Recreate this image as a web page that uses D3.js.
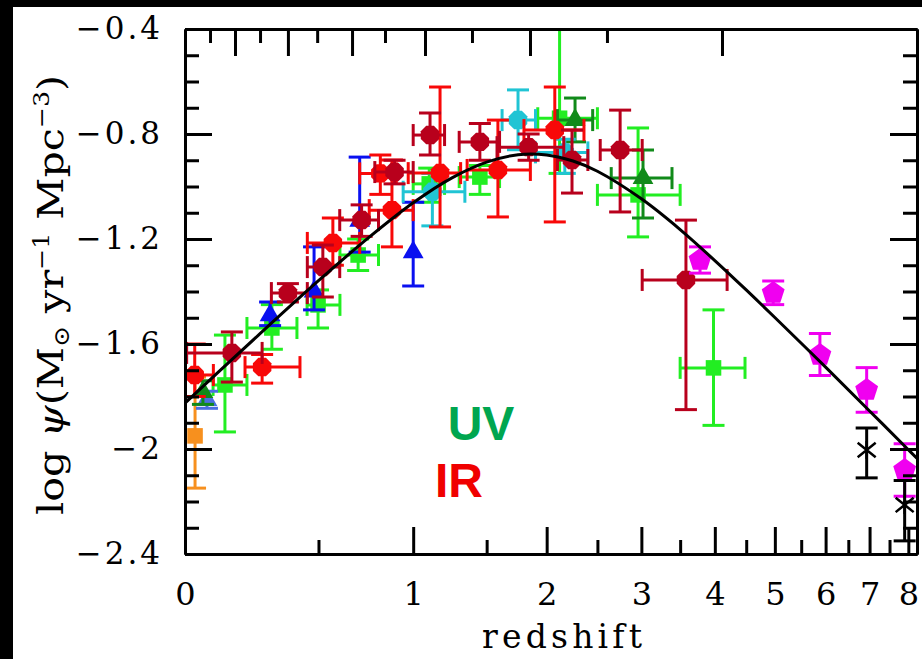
<!DOCTYPE html>
<html lang="en">
<head>
<meta charset="UTF-8">
<title>Cosmic star formation history</title>
<script src="https://d3js.org/d3.v7.min.js"></script>
<style>
  body { margin:0; background:#fff; }
  svg { display:block; }
</style>
</head>
<body>
<div id="chart"></div>
<script>
// ---- data ----
// rows: [z, log psi, zLo, zHi, psiHi(upper bar end), psiLo(lower bar end)]
var orangeSq=[[0.031,-1.95,null,null,-1.726,-2.149]]
var royalTri=[[0.069,-1.813,null,null,-1.78,-1.845]]
var dkgreenTri=[[0.056,-1.783,null,null,-1.74,-1.83],[2.27,-0.747,2.1,2.45,-0.663,-0.83],[3.02,-0.968,2.65,3.39,-0.861,-1.12]]
var limeSq=[[0.129,-1.756,0.089,0.207,-1.566,-1.935],[0.302,-1.539,0.207,0.405,-1.45,-1.62],[0.498,-1.451,0.449,0.601,-1.394,-1.539],
  [0.692,-1.261,0.601,0.8,-1.2,-1.32],[1.1,-0.99,1.0,1.2,-0.93,-1.06],[1.449,-0.964,1.3,1.6,-0.92,-1.03],
  [2.12,-0.74,1.92,2.5,-0.3,-0.95],[2.96,-1.032,2.5,3.5,-0.777,-1.192],[3.98,-1.691,3.5,4.48,-1.47,-1.91]]
var blueTri=[[0.295,-1.49,null,null,-1.44,-1.53],[0.48,-1.40,null,null,-1.23,-1.47],[0.70,-1.13,null,null,-0.888,-1.25],[1.0,-1.25,null,null,-1.06,-1.379]]
var cyanHex=[[1.12,-1.02,0.94,1.34,-0.95,-1.15],[1.75,-0.747,1.62,1.9,-0.632,-0.86],[2.17,-0.87,1.9,2.4,-0.82,-0.95]]
var redHex=[[0.03,-1.718,0.0,0.09,-1.60,-1.80],[0.264,-1.688,0.2,0.418,-1.64,-1.749],[0.567,-1.215,0.45,0.70,-1.12,-1.30],
  [0.81,-0.95,0.70,0.90,-0.88,-1.03],[0.875,-1.09,0.75,1.0,-0.899,-1.23],[1.17,-0.949,0.97,1.31,-0.621,-1.154],
  [1.587,-0.937,1.356,1.855,-0.747,-1.116],[2.075,-0.785,1.80,2.36,-0.621,-1.135]]
var darkredHex=[[0.153,-1.634,0.005,0.264,-1.554,-1.745],[0.367,-1.406,0.30,0.45,-1.37,-1.44],[0.52,-1.307,0.45,0.60,-1.223,-1.421],
  [0.71,-1.128,0.6,0.8,-1.07,-1.19],[0.89,-0.945,0.78,1.0,-0.90,-0.99],[1.105,-0.804,1.0,1.2,-0.72,-0.88],
  [1.449,-0.83,1.3,1.6,-0.76,-0.90],[1.84,-0.85,1.58,2.16,-0.80,-0.90],[2.24,-0.899,2.1,2.4,-0.785,-1.025],
  [2.75,-0.861,2.53,3.01,-0.709,-1.097],[3.58,-1.356,3.01,4.19,-1.128,-1.85]]
var magentaPent=[[3.78,-1.28,null,null,-1.23,-1.33],[4.97,-1.406,null,null,-1.36,-1.45],[5.88,-1.642,null,null,-1.56,-1.72],
  [6.93,-1.775,null,null,-1.69,-1.86],[7.9,-2.08,null,null,-1.98,-2.18]]
var blackStar=[[6.93,-2.004,null,null,-1.92,-2.11],[7.9,-2.213,null,null,-2.12,-2.35]]

// fit curve, sampled
var curveZ=[0,0.1,0.25,0.5,0.75,1,1.25,1.5,1.75,2,2.25,2.5,3,3.5,4,4.5,5,6,7,8,8.25]
var curvePsi=[-1.825,-1.714,-1.566,-1.359,-1.193,-1.062,-0.967,-0.907,-0.879,-0.880,-0.903,-0.942,-1.047,-1.164,-1.282,-1.394,-1.499,-1.688,-1.855,-2.003,-2.037]

// ticks
var xMajor=[0,1,2,3,4,5,6,7,8]
var xMinor=[0.5,1.5,2.5,3.5,4.5,5.5,6.5,7.5]
var topMajor=[0.164,0.367,0.661,1.073,1.852,4.11]
var topMinor=[0.079,0.256,0.494,0.836,1.391,2.603]
var yMajor=[-0.4,-0.8,-1.2,-1.6,-2,-2.4]
var yMinor=[-0.5,-0.6,-0.7,-0.9,-1.0,-1.1,-1.3,-1.4,-1.5,-1.7,-1.8,-1.9,-2.1,-2.2,-2.3]
var yLabels=['\u22120.4','\u22120.8','\u22121.2','\u22121.6','\u22122','\u22122.4']

// ---- layout ----
var W=922, H=659
var L=185, R=917, T=29, B=554
var x=d3.scaleLog().domain([1,9.24]).range([L,R])
var y=d3.scaleLinear().domain([-0.4,-2.4]).range([T,B])
function X(z){ return x(1+z) }

var svg=d3.select('#chart').append('svg').attr('width',W).attr('height',H)
svg.append('rect').attr('width',W).attr('height',H).attr('fill','#fff')

// dark frame of the screenshot
svg.append('rect').attr('x',0).attr('y',0).attr('width',W).attr('height',7).attr('fill','#000')
svg.append('rect').attr('x',0).attr('y',0).attr('width',13).attr('height',H).attr('fill','#000')

svg.append('clipPath').attr('id','clip').append('rect')
  .attr('x',L).attr('y',T).attr('width',R-L).attr('height',B-T)
var plot=svg.append('g').attr('clip-path','url(#clip)')

// polygon symbols
function ngon(n,rot){
  return {draw:function(ctx,r){
    for(var i=0;i<n;i++){
      var a=rot+i*2*Math.PI/n
      var px=r*Math.sin(a), py=-r*Math.cos(a)
      if(i==0) ctx.moveTo(px,py); else ctx.lineTo(px,py)
    }
    ctx.closePath()
  }}
}
var hex=ngon(8,Math.PI/8), tri=ngon(3,0), pent=ngon(5,0), sq=ngon(4,Math.PI/4)
var star={draw:function(ctx,r){
  ctx.moveTo(-r,-r*0.8); ctx.lineTo(r,r*0.8)
  ctx.moveTo(r,-r*0.8); ctx.lineTo(-r,r*0.8)
  ctx.moveTo(0,-r); ctx.lineTo(0,r)
}}

var cap=11
function drawSet(data,color,type,size,outline){
  var g=plot.append('g').attr('stroke',color).attr('stroke-width',3).attr('fill','none')
  data.forEach(function(d){
    var cx=X(d[0]), cy=y(d[1])
    // vertical bar
    g.append('line').attr('x1',cx).attr('x2',cx).attr('y1',y(d[4])).attr('y2',y(d[5]))
    g.append('line').attr('x1',cx-cap).attr('x2',cx+cap).attr('y1',y(d[4])).attr('y2',y(d[4]))
    g.append('line').attr('x1',cx-cap).attr('x2',cx+cap).attr('y1',y(d[5])).attr('y2',y(d[5]))
    // horizontal bar
    if(d[2]!=null){
      g.append('line').attr('x1',X(d[2])).attr('x2',X(d[3])).attr('y1',cy).attr('y2',cy)
      g.append('line').attr('x1',X(d[2])).attr('x2',X(d[2])).attr('y1',cy-cap).attr('y2',cy+cap)
      g.append('line').attr('x1',X(d[3])).attr('x2',X(d[3])).attr('y1',cy-cap).attr('y2',cy+cap)
    }
  })
  plot.append('g').selectAll('path').data(data).enter().append('path')
    .attr('transform',function(d){return 'translate('+X(d[0])+','+y(d[1])+')'})
    .attr('d',d3.symbol().type(type).size(size))
    .attr('fill',outline?'none':color)
    .attr('stroke',outline?color:'none')
    .attr('stroke-width',2.5)
}

drawSet(limeSq,'#22ee22',sq,11)
drawSet(orangeSq,'#f7901e',sq,11)
drawSet(royalTri,'#4a6fe0',tri,12)
drawSet(dkgreenTri,'#118a1a',tri,12)
drawSet(blueTri,'#0a10f0',tri,12)
drawSet(cyanHex,'#20c4d4',hex,10)
drawSet(redHex,'#f80808',hex,10)
drawSet(darkredHex,'#b8001c',hex,10)
drawSet(magentaPent,'#f000f0',pent,12)
drawSet(blackStar,'#000',star,9,true)

// fit curve
var line=d3.line().x(function(d){return X(d[0])}).y(function(d){return y(d[1])}).curve(d3.curveCatmullRom)
plot.append('path').datum(curveZ.map(function(z,i){return [z,curvePsi[i]]}))
  .attr('d',line).attr('fill','none').attr('stroke','#000').attr('stroke-width',3)

// ---- axes ----
function styleAxis(g){
  g.select('.domain').attr('stroke','#000').attr('stroke-width',3)
  g.selectAll('.tick line').attr('stroke','#000').attr('stroke-width',3)
}
var fontAx='"DejaVu Serif", serif'
// bottom
var gb=svg.append('g').attr('transform','translate(0,'+B+')')
gb.call(d3.axisBottom(x).tickValues(xMajor.map(function(z){return 1+z}))
  .tickFormat(function(v){return d3.format('d')(Math.round(v-1))}).tickSizeInner(-27).tickSizeOuter(0).tickPadding(28))
  .call(styleAxis)
gb.selectAll('text').attr('font-family',fontAx).attr('font-size',32).attr('fill','#000')
svg.append('g').attr('transform','translate(0,'+B+')')
  .call(d3.axisBottom(x).tickValues(xMinor.map(function(z){return 1+z})).tickFormat('').tickSizeInner(-14).tickSizeOuter(0))
  .call(styleAxis)
// top
svg.append('g').attr('transform','translate(0,'+T+')')
  .call(d3.axisTop(x).tickValues(topMajor.map(function(z){return 1+z})).tickFormat('').tickSizeInner(-27).tickSizeOuter(0))
  .call(styleAxis)
svg.append('g').attr('transform','translate(0,'+T+')')
  .call(d3.axisTop(x).tickValues(topMinor.map(function(z){return 1+z})).tickFormat('').tickSizeInner(-14).tickSizeOuter(0))
  .call(styleAxis)
// left
var gl=svg.append('g').attr('transform','translate('+L+',0)')
gl.call(d3.axisLeft(y).tickValues(yMajor).tickFormat(function(v,i){return yLabels[i]}).tickSizeInner(-27).tickSizeOuter(0).tickPadding(22))
  .call(styleAxis)
gl.selectAll('text').attr('font-family',fontAx).attr('font-size',31).attr('fill','#000').attr('letter-spacing',3)
svg.append('g').attr('transform','translate('+L+',0)')
  .call(d3.axisLeft(y).tickValues(yMinor).tickFormat('').tickSizeInner(-14).tickSizeOuter(0))
  .call(styleAxis)
// right
svg.append('g').attr('transform','translate('+R+',0)')
  .call(d3.axisRight(y).tickValues(yMajor).tickFormat('').tickSizeInner(-27).tickSizeOuter(0))
  .call(styleAxis)
svg.append('g').attr('transform','translate('+R+',0)')
  .call(d3.axisRight(y).tickValues(yMinor).tickFormat('').tickSizeInner(-14).tickSizeOuter(0))
  .call(styleAxis)

// axis titles
svg.append('text').attr('x',562).attr('y',648).attr('text-anchor','middle')
  .attr('font-family',fontAx).attr('font-size',33).attr('textLength',160).attr('lengthAdjust','spacing')
  .text('redshift')

var yt=svg.append('text').attr('transform','translate(63,295) rotate(-90)').attr('text-anchor','middle')
  .attr('font-family',fontAx).attr('font-size',36).attr('textLength',440).attr('lengthAdjust','spacingAndGlyphs')
yt.append('tspan').text('log ')
yt.append('tspan').attr('font-style','italic').text('\u03c8')
yt.append('tspan').text('(M')
yt.append('tspan').attr('font-size',22).attr('dy',6).text('\u2299')
yt.append('tspan').attr('dy',-6).text(' yr')
yt.append('tspan').attr('font-size',22).attr('dy',-14).text('\u22121')
yt.append('tspan').attr('dy',14).text(' Mpc')
yt.append('tspan').attr('font-size',22).attr('dy',-14).text('\u22123')
yt.append('tspan').attr('dy',14).text(')')

// UV / IR labels
svg.append('text').attr('x',481).attr('y',440).attr('text-anchor','middle')
  .attr('font-family','"Liberation Sans", Arial, sans-serif').attr('font-weight','bold').attr('font-size',48)
  .attr('fill','#00a650').text('UV')
svg.append('text').attr('x',459).attr('y',497).attr('text-anchor','middle')
  .attr('font-family','"Liberation Sans", Arial, sans-serif').attr('font-weight','bold').attr('font-size',48)
  .attr('fill','#f00000').text('IR')
</script>
</body>
</html>
